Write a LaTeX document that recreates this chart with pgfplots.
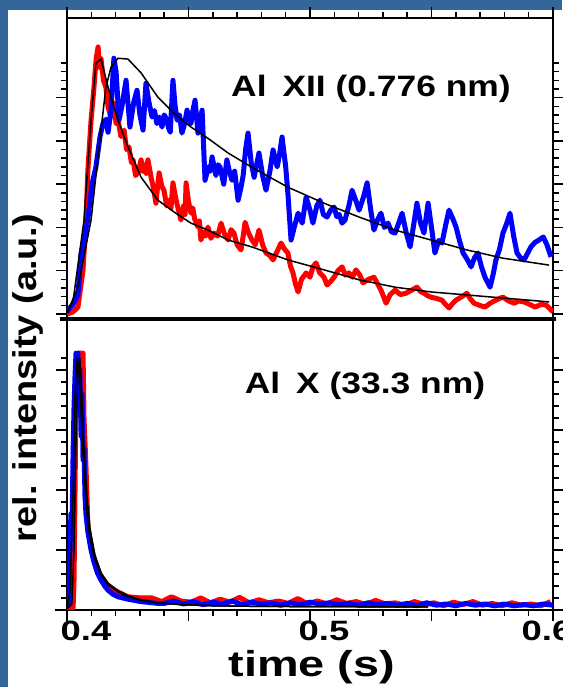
\documentclass[border=0pt]{standalone}
\usepackage{fontspec}
\setmainfont{Liberation Sans}
\usepackage{pgfplots}
\pgfplotsset{compat=1.18}
\definecolor{bgblue}{RGB}{51,102,153}
\newcommand{\wide}[2][1.2]{\scalebox{#1}[1]{#2}}

\pgfplotsset{
  panel/.style={
    scale only axis, anchor=south west, width=486pt,
    xmin=0.4, xmax=0.6,
    xtick={0.4,0.45,0.5,0.55,0.6},
    minor xtick={0.41,0.42,0.43,0.44,0.46,0.47,0.48,0.49,0.51,0.52,0.53,0.54,0.56,0.57,0.58,0.59},
    xticklabels={},
    tick align=outside,
    major tick length=11pt, minor tick length=6pt,
    tick style={black, line width=1.5pt},
    axis line style={line width=1.8pt},
    yticklabels={},
    clip mode=individual,
    every axis plot/.append style={line join=round, mark=none},
  },
  sig/.style={line width=5pt},
  fit/.style={black, line width=1.5pt},
}

\begin{document}
\begin{tikzpicture}[x=1pt,y=1pt]
\fill[bgblue] (0,0) rectangle (562,687);
\fill[white] (8,0) rectangle (562,677);

% upper panel: Al XII
\begin{axis}[panel, at={(67pt,368pt)}, height=301pt,
  ymin=-0.115, ymax=6.84,
  ytick={0,...,5}, minor ytick={0,0.2,...,5.81},
  xtick pos=right]
\addplot[red, sig] coordinates {
(0.4000,0.00) (0.4025,0.05) (0.4045,0.16) (0.4066,1.02) (0.4078,2.17) (0.4086,3.33)
(0.4099,4.48) (0.4111,5.24) (0.4120,5.90) (0.4128,6.17) (0.4134,5.70) (0.4140,5.90)
(0.4150,5.40) (0.4160,5.24) (0.4169,4.78) (0.4181,4.55) (0.4193,4.87) (0.4202,4.40)
(0.4210,4.48) (0.4222,4.10) (0.4235,4.25) (0.4245,3.80) (0.4255,3.86) (0.4265,3.50)
(0.4272,3.56) (0.4282,3.20) (0.4292,3.26) (0.4305,3.56) (0.4312,3.30) (0.4318,3.45)
(0.4326,3.25) (0.4333,3.56) (0.4346,3.16) (0.4356,2.90) (0.4366,2.56) (0.4372,2.90)
(0.4379,3.26) (0.4390,2.95) (0.4399,2.86) (0.4410,2.50) (0.4420,2.63) (0.4428,2.45)
(0.4436,3.03) (0.4449,2.63) (0.4459,2.40) (0.4469,2.17) (0.4480,2.50) (0.4486,2.30)
(0.4490,3.03) (0.4500,2.60) (0.4510,2.33) (0.4518,2.45) (0.4525,2.20) (0.4539,2.01)
(0.4545,2.15) (0.4551,1.71) (0.4565,1.90) (0.4572,1.80) (0.4580,2.01) (0.4592,1.75)
(0.4605,1.87) (0.4620,1.80) (0.4634,2.10) (0.4648,1.85) (0.4663,1.71) (0.4675,1.95)
(0.4687,1.87) (0.4700,1.60) (0.4716,1.48) (0.4725,1.80) (0.4733,2.12) (0.4745,1.90)
(0.4761,1.71) (0.4775,1.60) (0.4790,1.94) (0.4805,1.60) (0.4819,1.41) (0.4835,1.35)
(0.4848,1.25) (0.4865,1.45) (0.4881,1.64) (0.4895,1.50) (0.4909,1.41) (0.4920,1.10)
(0.4930,0.95) (0.4940,0.70) (0.4951,0.51) (0.4965,0.80) (0.4984,0.95) (0.5000,0.85)
(0.5012,1.09) (0.5025,1.18) (0.5040,0.95) (0.5058,0.85) (0.5070,0.67) (0.5085,0.75)
(0.5099,0.85) (0.5115,1.00) (0.5132,1.09) (0.5145,0.90) (0.5160,0.95) (0.5175,0.85)
(0.5189,1.02) (0.5205,0.90) (0.5218,0.72) (0.5240,0.80) (0.5263,0.85) (0.5278,0.70)
(0.5292,0.55) (0.5303,0.40) (0.5313,0.25) (0.5330,0.45) (0.5350,0.55) (0.5372,0.45)
(0.5395,0.48) (0.5418,0.55) (0.5440,0.62) (0.5455,0.52) (0.5469,0.48) (0.5485,0.42)
(0.5498,0.39) (0.5520,0.36) (0.5543,0.32) (0.5558,0.22) (0.5572,0.14) (0.5588,0.25)
(0.5601,0.32) (0.5625,0.40) (0.5646,0.48) (0.5660,0.35) (0.5675,0.25) (0.5698,0.20)
(0.5720,0.16) (0.5742,0.25) (0.5765,0.32) (0.5780,0.36) (0.5794,0.39) (0.5818,0.30)
(0.5840,0.25) (0.5860,0.30) (0.5881,0.28) (0.5905,0.22) (0.5926,0.16) (0.5950,0.22)
(0.5971,0.21) (0.6000,0.05)
};
\addplot[blue, sig] coordinates {
(0.4000,0.05) (0.4008,0.12) (0.4025,0.22) (0.4045,0.45) (0.4058,1.40) (0.4070,1.70)
(0.4086,2.20) (0.4103,3.00) (0.4119,3.40) (0.4136,4.10) (0.4148,4.40) (0.4160,4.50)
(0.4169,4.20) (0.4181,4.70) (0.4193,5.91) (0.4202,5.60) (0.4214,4.48) (0.4226,4.80)
(0.4243,5.40) (0.4259,4.32) (0.4275,4.90) (0.4288,5.17) (0.4300,4.60) (0.4313,4.25)
(0.4325,5.33) (0.4337,4.90) (0.4350,4.55) (0.4360,4.70) (0.4370,4.40) (0.4380,4.55)
(0.4391,4.32) (0.4400,4.60) (0.4410,4.50) (0.4418,4.30) (0.4425,4.20) (0.4436,5.40)
(0.4445,4.80) (0.4453,4.48) (0.4463,4.60) (0.4473,4.18) (0.4484,4.40) (0.4494,4.71)
(0.4502,4.50) (0.4510,4.40) (0.4518,4.70) (0.4527,4.94) (0.4539,4.18) (0.4548,4.50)
(0.4556,4.71) (0.4568,3.09) (0.4582,3.40) (0.4590,3.30) (0.4597,3.63) (0.4613,3.20)
(0.4622,3.45) (0.4630,3.39) (0.4645,3.00) (0.4658,3.56) (0.4668,3.30) (0.4679,3.09)
(0.4690,3.30) (0.4704,2.63) (0.4715,2.90) (0.4725,3.20) (0.4735,3.80) (0.4745,4.18)
(0.4758,3.50) (0.4770,3.16) (0.4790,3.72) (0.4805,3.20) (0.4819,2.86) (0.4835,3.30)
(0.4848,3.79) (0.4865,3.40) (0.4875,3.70) (0.4885,4.09) (0.4900,3.40) (0.4909,2.79)
(0.4922,1.71) (0.4935,2.00) (0.4951,2.33) (0.4968,2.10) (0.4984,2.70) (0.5000,2.40)
(0.5012,2.10) (0.5028,2.50) (0.5041,2.63) (0.5055,2.30) (0.5070,2.24) (0.5085,2.40)
(0.5099,2.47) (0.5110,2.25) (0.5120,2.30) (0.5132,2.10) (0.5144,2.17) (0.5160,2.50)
(0.5173,2.86) (0.5190,2.60) (0.5202,2.40) (0.5220,2.70) (0.5235,3.03) (0.5250,2.40)
(0.5263,1.94) (0.5280,2.20) (0.5292,2.33) (0.5306,2.00) (0.5321,2.10) (0.5335,1.90)
(0.5350,1.87) (0.5365,2.10) (0.5379,2.33) (0.5395,1.90) (0.5412,1.55) (0.5425,2.00)
(0.5440,2.56) (0.5455,2.10) (0.5469,1.87) (0.5486,2.56) (0.5500,2.00) (0.5514,1.41)
(0.5530,1.70) (0.5543,1.64) (0.5560,2.10) (0.5572,2.40) (0.5588,2.20) (0.5601,2.01)
(0.5615,1.70) (0.5630,1.41) (0.5648,1.25) (0.5663,1.09) (0.5677,1.30) (0.5691,1.41)
(0.5705,1.10) (0.5720,0.85) (0.5741,0.62) (0.5755,0.95) (0.5765,1.25) (0.5780,1.50)
(0.5794,1.87) (0.5810,2.10) (0.5823,2.33) (0.5838,1.80) (0.5852,1.41) (0.5866,1.30)
(0.5881,1.25) (0.5895,1.40) (0.5909,1.55) (0.5925,1.65) (0.5942,1.71) (0.5960,1.78)
(0.5975,1.60) (0.5992,1.32)
};
\addplot[fit] coordinates {
(0.4000,0.02) (0.4025,0.30) (0.4070,2.17) (0.4099,4.48) (0.4119,5.80) (0.4140,5.89)
(0.4169,5.24) (0.4210,4.48) (0.4251,3.86) (0.4305,3.16) (0.4374,2.63) (0.4440,2.36)
(0.4510,2.10) (0.4580,1.94) (0.4663,1.71) (0.4761,1.55) (0.4909,1.25) (0.5058,1.02)
(0.5202,0.79) (0.5350,0.62) (0.5498,0.51) (0.5646,0.44) (0.5794,0.37) (0.5984,0.28)
};
\addplot[fit] coordinates {
(0.4000,0.02) (0.4045,0.62) (0.4099,2.17) (0.4132,3.86) (0.4160,5.24) (0.4181,5.70)
(0.4210,5.91) (0.4251,5.89) (0.4305,5.57) (0.4374,5.01) (0.4440,4.64) (0.4510,4.32)
(0.4580,4.06) (0.4663,3.72) (0.4761,3.39) (0.4909,2.93) (0.5058,2.56) (0.5202,2.24)
(0.5350,1.94) (0.5498,1.71) (0.5646,1.48) (0.5794,1.29) (0.5984,1.13)
};
\draw[line width=3.6pt] ([xshift=-7pt]rel axis cs:0,0) -- ([xshift=3pt]rel axis cs:1,0);
\draw[line width=1.8pt] (rel axis cs:0,1) -- ([yshift=8pt]rel axis cs:0,1);
\draw[line width=1.8pt] (rel axis cs:1,1) -- ([yshift=8pt]rel axis cs:1,1);
\end{axis}

% lower panel: Al X
\begin{axis}[panel, at={(67pt,77pt)}, height=291pt,
  ymin=0, ymax=4.85,
  ytick={0,...,4}, minor ytick={0,0.2,...,4.21},
  xtick pos=left]
\addplot[red, sig] coordinates {
(0.4000,0.03) (0.4025,0.03) (0.4029,0.50) (0.4033,2.00) (0.4037,3.50) (0.4045,4.28)
(0.4058,4.28) (0.4066,4.28) (0.4070,3.20) (0.4078,2.40) (0.4086,1.40) (0.4099,1.05)
(0.4111,0.85) (0.4140,0.55) (0.4169,0.40) (0.4210,0.30) (0.4251,0.22) (0.4305,0.20)
(0.4350,0.20) (0.4390,0.14) (0.4430,0.22) (0.4470,0.15) (0.4510,0.13) (0.4550,0.20)
(0.4590,0.12) (0.4630,0.18) (0.4670,0.13) (0.4710,0.21) (0.4750,0.12) (0.4790,0.17)
(0.4830,0.12) (0.4870,0.15) (0.4910,0.11) (0.4950,0.19) (0.4990,0.10) (0.5030,0.15)
(0.5070,0.10) (0.5110,0.17) (0.5150,0.11) (0.5190,0.14) (0.5230,0.09) (0.5270,0.16)
(0.5310,0.10) (0.5350,0.12) (0.5390,0.08) (0.5430,0.14) (0.5470,0.09) (0.5510,0.12)
(0.5550,0.07) (0.5590,0.13) (0.5630,0.09) (0.5670,0.14) (0.5710,0.08) (0.5750,0.11)
(0.5790,0.07) (0.5830,0.12) (0.5870,0.08) (0.5910,0.10) (0.5950,0.07) (0.5990,0.14)
};
\addplot[blue, sig] coordinates {
(0.4000,0.08) (0.4008,0.10) (0.4012,0.90) (0.4016,1.60) (0.4020,1.20) (0.4025,2.60)
(0.4029,3.40) (0.4033,3.90) (0.4037,4.28) (0.4041,3.70) (0.4045,4.28) (0.4049,3.40)
(0.4053,4.00) (0.4058,2.90) (0.4062,3.60) (0.4066,2.50) (0.4070,2.70) (0.4074,1.90)
(0.4078,1.60) (0.4086,1.30) (0.4099,1.00) (0.4111,0.80) (0.4125,0.62) (0.4140,0.50)
(0.4155,0.40) (0.4169,0.33) (0.4190,0.26) (0.4210,0.22) (0.4251,0.18) (0.4305,0.14)
(0.4374,0.11) (0.4400,0.11) (0.4440,0.15) (0.4480,0.10) (0.4520,0.14) (0.4560,0.09)
(0.4600,0.13) (0.4640,0.10) (0.4680,0.15) (0.4720,0.09) (0.4760,0.13) (0.4800,0.10)
(0.4840,0.12) (0.4880,0.08) (0.4920,0.12) (0.4960,0.09) (0.5000,0.13) (0.5040,0.10)
(0.5080,0.12) (0.5120,0.09) (0.5160,0.11) (0.5200,0.08) (0.5240,0.12) (0.5280,0.09)
(0.5320,0.11) (0.5360,0.08) (0.5400,0.11) (0.5440,0.07) (0.5480,0.12) (0.5520,0.08)
(0.5560,0.10) (0.5600,0.07) (0.5640,0.11) (0.5680,0.08) (0.5720,0.10) (0.5760,0.07)
(0.5800,0.10) (0.5840,0.07) (0.5880,0.09) (0.5920,0.07) (0.5960,0.10) (0.6000,0.08)
};
\addplot[fit] coordinates {
(0.4000,0.02) (0.4012,0.30) (0.4025,2.00) (0.4033,3.60) (0.4041,4.20) (0.4049,4.00)
(0.4058,3.30) (0.4066,2.60) (0.4078,1.80) (0.4090,1.30) (0.4111,0.88) (0.4140,0.58)
(0.4169,0.42) (0.4210,0.30) (0.4251,0.22) (0.4305,0.16) (0.4374,0.12) (0.4469,0.09)
(0.4600,0.07) (0.4800,0.06) (0.5486,0.05)
};
\addplot[fit] coordinates {
(0.4000,0.02) (0.4020,0.10) (0.4029,1.00) (0.4037,2.80) (0.4045,4.00) (0.4053,4.20)
(0.4062,3.50) (0.4070,2.70) (0.4082,1.90) (0.4095,1.35) (0.4115,0.92) (0.4140,0.62)
(0.4169,0.45) (0.4210,0.32) (0.4251,0.24) (0.4305,0.17) (0.4374,0.12) (0.4469,0.09)
(0.4600,0.07) (0.4800,0.06) (0.5486,0.05)
};
\draw[line width=1.8pt] ([xshift=-12pt]rel axis cs:0,0) -- (rel axis cs:0,0);
\end{axis}

% tick labels of the time axis (placed as in the original figure)
\begin{scope}[every node/.style={font=\fontsize{28}{28}\selectfont\bfseries, anchor=base}]
\node at (86,46) {\wide[1.3]{0.4}};
\node at (324,46) {\wide[1.3]{0.5}};
\node at (547,46) {\wide[1.3]{0.6}};
\end{scope}

\node[font=\fontsize{29.5}{30}\selectfont\bfseries, anchor=base] at (371,590) {\wide{Al\hspace{0.45em}XII (0.776 nm)}};
\node[font=\fontsize{29.5}{30}\selectfont\bfseries, anchor=base] at (365,293) {\wide{Al\hspace{0.45em}X (33.3 nm)}};
\node[font=\fontsize{36}{36}\selectfont\bfseries, anchor=base] at (312,10) {\wide[1.3]{time (s)}};
\node[rotate=90, anchor=base, font=\fontsize{33}{33}\selectfont\bfseries] at (36,309) {\wide[1.15]{rel. intensity (a.u.)}};

\pgfresetboundingbox
\useasboundingbox (0,0) rectangle (562,687);
\end{tikzpicture}
\end{document}
